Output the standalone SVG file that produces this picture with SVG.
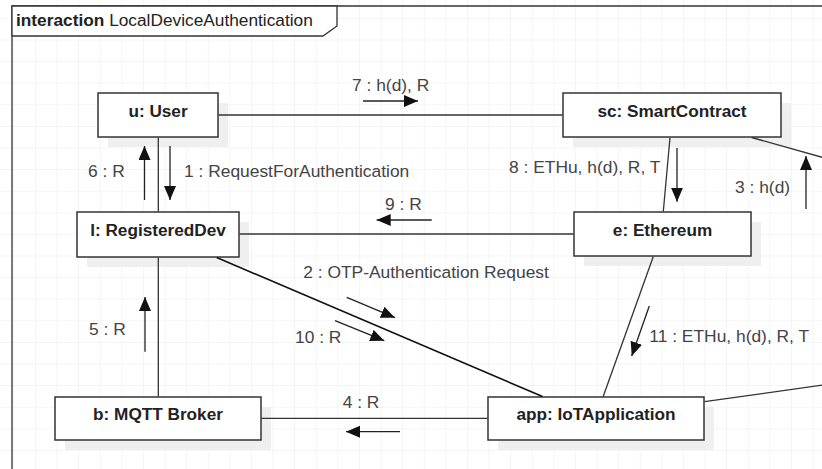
<svg xmlns="http://www.w3.org/2000/svg" width="822" height="469" viewBox="0 0 822 469">
<style>
.box{fill:#fff;stroke:#333;stroke-width:1.5}
.shadow{fill:#efefef}
.nlabel{font-family:"Liberation Sans",Arial,sans-serif;font-size:17.2px;font-weight:bold;fill:#222;text-anchor:middle}
.mlabel{font-family:"Liberation Sans",Arial,sans-serif;font-size:17.4px;fill:#444}
.link{stroke:#333;stroke-width:1.3;fill:none}
.msg{stroke:#222;stroke-width:1.3;fill:none;marker-end:url(#ah)}
</style>
<defs>
<pattern id="grid" x="35" y="39.5" width="21.6" height="21.6" patternUnits="userSpaceOnUse">
<path d="M21.6 0 L0 0 0 21.6" fill="none" stroke="#ebebeb" stroke-width="1"/>
</pattern>
<marker id="ah" markerUnits="userSpaceOnUse" markerWidth="15" markerHeight="13" refX="14" refY="6" orient="auto">
<path d="M0,0 L14,6 L0,12 z" fill="#111"/>
</marker>
</defs>
<rect x="0" y="0" width="822" height="469" fill="#fff"/>
<rect x="0" y="0" width="822" height="469" fill="url(#grid)"/>
<g id="frame">
<path d="M12 470 L12 6 L830 6" fill="none" stroke="#333" stroke-width="1.3"/>
<path d="M12 6 L337 6 L337 26 L323 36 L12 36 Z" fill="#fff" stroke="#333" stroke-width="1.3"/>
<text x="16" y="26" style="font-family:'Liberation Sans',Arial,sans-serif;font-size:17.3px;fill:#222"><tspan font-weight="bold">interaction</tspan> LocalDeviceAuthentication</text>
</g>
<g id="user">
<rect class="shadow" x="108" y="103" width="120" height="44"/>
<rect class="box" x="98" y="93" width="120" height="44"/>
<text class="nlabel" x="158" y="117">u: User</text>
</g>
<g id="smartcontract">
<rect class="shadow" x="573" y="103" width="218" height="44"/>
<rect class="box" x="563" y="93" width="218" height="44"/>
<text class="nlabel" x="672" y="117">sc: SmartContract</text>
</g>
<g id="registereddev">
<rect class="shadow" x="87" y="222" width="162" height="45"/>
<rect class="box" x="77" y="212" width="162" height="45"/>
<text class="nlabel" x="158" y="236">l: RegisteredDev</text>
</g>
<g id="ethereum">
<rect class="shadow" x="584" y="222" width="177" height="44"/>
<rect class="box" x="574" y="212" width="177" height="44"/>
<text class="nlabel" x="662.5" y="236">e: Ethereum</text>
</g>
<g id="mqttbroker">
<rect class="shadow" x="65" y="407" width="206" height="43"/>
<rect class="box" x="55" y="397" width="206" height="43"/>
<text class="nlabel" x="158" y="420">b: MQTT Broker</text>
</g>
<g id="iotapplication">
<rect class="shadow" x="498" y="407" width="216" height="43"/>
<rect class="box" x="488" y="397" width="216" height="43"/>
<text class="nlabel" x="596" y="420">app: IoTApplication</text>
</g>
<g id="connectors">
<line class="link" x1="218.5" y1="115" x2="562.5" y2="115"/>
<line class="link" x1="158.3" y1="137.5" x2="158.3" y2="211.5"/>
<line class="link" x1="239.5" y1="234" x2="573.5" y2="234"/>
<line class="link" x1="158.3" y1="257.5" x2="158.3" y2="396.5"/>
<line x1="216.7" y1="257.5" x2="542.5" y2="396.5" stroke="#111" stroke-width="1.6"/>
<line class="link" x1="261.5" y1="418.3" x2="487.5" y2="418.3"/>
<line class="link" x1="670" y1="137.5" x2="663.3" y2="211.5"/>
<line class="link" x1="653.3" y1="256.5" x2="603.2" y2="396.5"/>
<line class="link" x1="751.7" y1="137.5" x2="830" y2="159.5"/>
<line class="link" x1="704.5" y1="401.7" x2="830" y2="384"/>
</g>
<g id="messages">
<line class="msg" x1="363" y1="101" x2="418" y2="101"/>
<text class="mlabel" x="352" y="90.5">7 : h(d), R</text>
<line class="msg" x1="144.5" y1="200" x2="144.5" y2="146"/>
<text class="mlabel" x="88" y="176.5">6 : R</text>
<line class="msg" x1="170" y1="146" x2="170" y2="200"/>
<text class="mlabel" x="184" y="176.5">1 : RequestForAuthentication</text>
<line class="msg" x1="431.7" y1="220" x2="376.7" y2="220"/>
<text class="mlabel" x="385" y="210">9 : R</text>
<line class="msg" x1="677" y1="148" x2="677" y2="201.7"/>
<text class="mlabel" x="509" y="173.3">8 : ETHu, h(d), R, T</text>
<line class="msg" x1="806" y1="209" x2="806" y2="156"/>
<text class="mlabel" x="735" y="193">3 : h(d)</text>
<line class="msg" x1="346.7" y1="297.3" x2="395" y2="317.7"/>
<text class="mlabel" x="303.3" y="277.5">2 : OTP-Authentication Request</text>
<line class="msg" x1="335" y1="320.7" x2="384.3" y2="340.7"/>
<text class="mlabel" x="295" y="343.3">10 : R</text>
<line class="msg" x1="145" y1="351.7" x2="145" y2="297"/>
<text class="mlabel" x="89" y="335">5 : R</text>
<line class="msg" x1="400" y1="431.7" x2="346" y2="431.7"/>
<text class="mlabel" x="342.7" y="408.3">4 : R</text>
<line class="msg" x1="649.3" y1="306" x2="631.7" y2="356"/>
<text class="mlabel" x="649.3" y="342">11 : ETHu, h(d), R, T</text>
</g>
</svg>
